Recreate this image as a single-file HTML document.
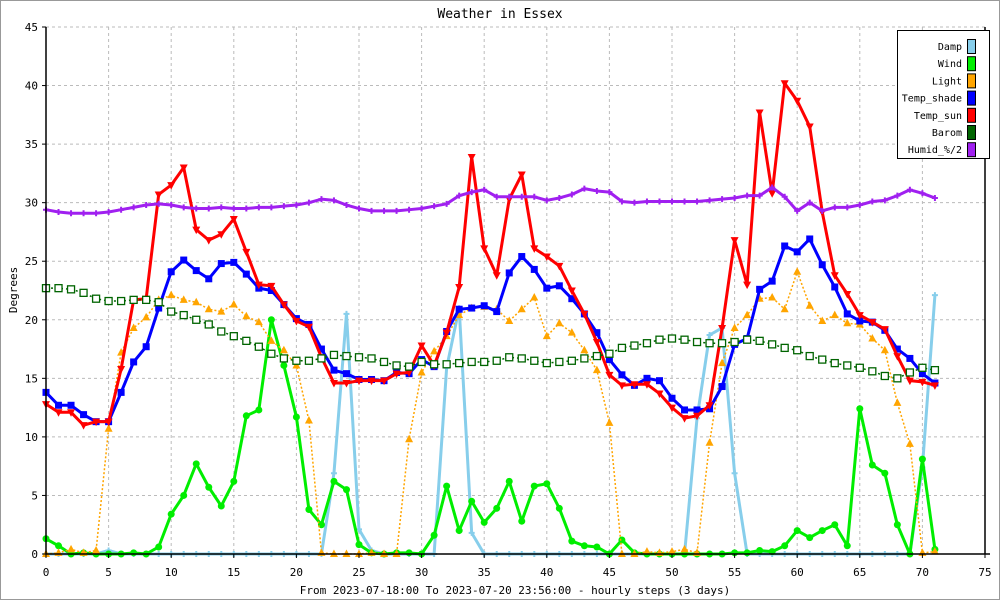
<!DOCTYPE html>
<html><head><meta charset="utf-8"><style>
body{margin:0;background:#fff}
svg{display:block;font-family:"DejaVu Sans Mono","Liberation Mono",monospace}
</style></head><body>
<svg id="c" width="1000" height="600" viewBox="0 0 1000 600">
<rect x="0.5" y="0.5" width="999" height="599" fill="#fff" stroke="#999"/>
<text x="500" y="18" text-anchor="middle" font-size="13">Weather in Essex</text>
<text transform="translate(17,290) rotate(-90)" text-anchor="middle" font-size="11">Degrees</text>
<text x="515" y="594" text-anchor="middle" font-size="11">From 2023-07-18:00 To 2023-07-20 23:56:00 - hourly steps (3 days)</text>
<g id="grid"></g><g id="series"></g><g id="axes"></g>
<g id="legend"></g>
</svg>
<script>
const xTicks=[0,5,10,15,20,25,30,35,40,45,50,55,60,65,70,75];
const yTicks=[0,5,10,15,20,25,30,35,40,45];
const damp=[0,0,0,0,0,0.3,0,0,0,0,0,0,0,0,0,0,0,0,0,0,0,0,0,6.9,20.5,2.1,0.3,0,0,0,0,0,15.9,21,1.8,0,0,0,0,0,0,0,0,0,0,0,0,0,0,0,0,0,11.6,18.7,19.3,6.9,0,0,0,0,0,0,0,0,0,0,0,0,0,0,7.4,22.1];
const wind=[1.3,0.7,0,0.1,0,0,0,0.1,0,0.6,3.4,5,7.7,5.7,4.1,6.2,11.8,12.3,20,16.1,11.7,3.8,2.5,6.2,5.5,0.8,0.1,0,0.1,0.1,0,1.6,5.8,2,4.5,2.7,3.9,6.2,2.8,5.8,6,3.9,1.1,0.7,0.6,0,1.2,0.1,0,0,0,0,0,0,0,0.1,0.1,0.3,0.2,0.7,2,1.4,2,2.5,0.7,12.4,7.6,6.9,2.5,0,8.1,0.4];
const light=[0,0.1,0.4,0.1,0.3,10.7,17.2,19.3,20.2,21.7,22.1,21.7,21.5,20.9,20.7,21.3,20.3,19.8,18.2,17.4,16.1,11.4,0.1,0,0,0,0.1,0,0,9.8,15.5,17.3,18.6,20.4,21,21.1,20.9,19.9,20.9,21.9,18.6,19.7,18.9,17.4,15.7,11.2,0,0,0.2,0.1,0.2,0.4,0.1,9.5,16.3,19.3,20.4,21.8,21.9,20.9,24.1,21.2,19.9,20.4,19.7,19.6,18.4,17.4,12.9,9.4,0.1,0.2];
const tshade=[13.8,12.7,12.7,11.9,11.3,11.3,13.8,16.4,17.7,21,24.1,25.1,24.2,23.5,24.8,24.9,23.9,22.7,22.5,21.3,20.1,19.6,17.5,15.7,15.4,14.9,14.9,14.8,15.5,15.4,16.6,16,19,20.9,21,21.2,20.7,24,25.4,24.3,22.7,22.9,21.8,20.5,18.9,16.6,15.3,14.4,15,14.8,13.3,12.3,12.3,12.4,14.3,17.9,18.4,22.6,23.3,26.3,25.8,26.9,24.7,22.8,20.5,19.9,19.8,19.1,17.5,16.7,15.4,14.6];
const tsun=[12.8,12.1,12.1,11,11.3,11.3,15.8,21.7,21.8,30.7,31.5,33,27.7,26.8,27.3,28.6,25.8,23,22.9,21.3,19.9,19.4,16.8,14.6,14.6,14.8,14.8,14.8,15.4,15.5,17.8,16.1,18.9,22.8,33.9,26.1,23.8,30.3,32.4,26.1,25.4,24.6,22.5,20.5,18.1,15.3,14.4,14.5,14.5,13.7,12.5,11.6,11.8,12.7,19.3,26.8,23,37.7,30.8,40.2,38.7,36.5,29.2,23.8,22.2,20.4,19.8,19.2,16.9,14.8,14.7,14.4];
const barom=[22.7,22.7,22.6,22.3,21.8,21.6,21.6,21.7,21.7,21.5,20.7,20.4,20,19.6,19,18.6,18.2,17.7,17.1,16.7,16.5,16.5,16.7,17,16.9,16.8,16.7,16.4,16.1,16,16.4,16.2,16.2,16.3,16.4,16.4,16.5,16.8,16.7,16.5,16.3,16.4,16.5,16.7,16.9,17.1,17.6,17.8,18,18.3,18.4,18.3,18.1,18,18,18.1,18.3,18.2,17.9,17.6,17.4,16.9,16.6,16.3,16.1,15.9,15.6,15.2,15,15.5,15.9,15.7];
const humid=[29.4,29.2,29.1,29.1,29.1,29.2,29.4,29.6,29.8,29.9,29.8,29.6,29.5,29.5,29.6,29.5,29.5,29.6,29.6,29.7,29.8,30,30.3,30.2,29.8,29.5,29.3,29.3,29.3,29.4,29.5,29.7,29.9,30.6,30.9,31.1,30.5,30.5,30.5,30.5,30.2,30.4,30.7,31.2,31,30.9,30.1,30,30.1,30.1,30.1,30.1,30.1,30.2,30.3,30.4,30.6,30.6,31.3,30.5,29.3,30,29.3,29.6,29.6,29.8,30.1,30.2,30.6,31.1,30.8,30.4];
const legendNames=["Damp","Wind","Light","Temp_shade","Temp_sun","Barom","Humid_%/2"];
const legendColors=["#87ceeb","#00ee00","#ffa500","#0000ff","#ff0000","#006400","#a020f0"];

const NS="http://www.w3.org/2000/svg";
const X0=46,X1=985,Y0=554,Y1=27;
const sx=v=>X0+(X1-X0)*v/75, sy=v=>Y0-(Y0-Y1)*v/45;
function mk(t,a,p){const e=document.createElementNS(NS,t);for(const k in a)e.setAttribute(k,a[k]);p.appendChild(e);return e;}
const G=document.getElementById('grid'),S=document.getElementById('series'),A=document.getElementById('axes'),L=document.getElementById('legend');
xTicks.forEach(t=>{
 if(t>0&&t<75){const l=mk('line',{x1:sx(t),x2:sx(t),y1:Y1,y2:Y0,stroke:'#bbb','stroke-dasharray':'3,3'},G);
 
 }
 const tk=mk('line',{x1:sx(t),x2:sx(t),y1:Y0,y2:Y0+4,stroke:'#000'},A);
 
 
 const tx=mk('text',{x:sx(t),y:576,'text-anchor':'middle','font-size':11},A);tx.textContent=t;
 
 
});
yTicks.forEach(t=>{
 if(t>0){const l=mk('line',{x1:X0,x2:X1,y1:sy(t),y2:sy(t),stroke:'#bbb','stroke-dasharray':'3,3'},G);
 
 }
 const tk=mk('line',{x1:X0-4,x2:X0,y1:sy(t),y2:sy(t),stroke:'#000'},A);
 
 
 const tx=mk('text',{x:38,y:sy(t)+4,'text-anchor':'end','font-size':11},A);tx.textContent=t;
 
 
});
const ax=mk('path',{d:`M${X0} ${Y1}V${Y0}H${X1+5}M${X1} ${Y1}V${Y0}`,stroke:'#000',fill:'none','stroke-width':1.5},A);



function marker(kind,x,y,c,g){
 if(kind==='circle')return mk('circle',{cx:x,cy:y,r:3.5,fill:c},g);
 if(kind==='square')return mk('rect',{x:x-3.5,y:y-3.5,width:7,height:7,fill:c},g);
 if(kind==='osquare')return mk('rect',{x:x-3.5,y:y-3.5,width:7,height:7,fill:'#fff',stroke:c,'stroke-width':1.3},g);
 if(kind==='up')return mk('path',{d:`M${x} ${y-4.5}L${x+4} ${y+3}L${x-4} ${y+3}Z`,fill:c},g);
 if(kind==='down')return mk('path',{d:`M${x} ${y+4.5}L${x+4} ${y-3}L${x-4} ${y-3}Z`,fill:c},g);
 if(kind==='cross')return mk('path',{d:`M${x-3} ${y}H${x+3}M${x} ${y-3}V${y+3}`,stroke:c,'stroke-width':2},g);
 return mk('circle',{cx:x,cy:y,r:3,fill:c},g);
}
function series(name,data,color,w,dash,kind){
 const g=mk('g',{},S);
 
 
 const p=mk('polyline',{points:data.map((v,i)=>sx(i)+','+sy(v)).join(' '),fill:'none',stroke:color,'stroke-width':w,'stroke-linejoin':'round'},g);
 if(dash)p.setAttribute('stroke-dasharray',dash);
 
 
 data.forEach((v,i)=>{const m=marker(kind,sx(i),sy(v),color,g);
  
  });
}
series('damp',damp,'#87ceeb',3,null,'cross');
series('wind',wind,'#00ee00',3,null,'circle');
series('light',light,'#ffa500',1.5,'2,2','up');
series('temp-shade',tshade,'#0000ff',3,null,'square');
series('temp-sun',tsun,'#ff0000',3,null,'down');
series('barom',barom,'#006400',1.5,'2,3','osquare');
series('humid',humid,'#a020f0',3,null,'cross');

const lb=mk('rect',{x:897.5,y:30.5,width:92,height:128,fill:'#fff',stroke:'#000'},L);


legendNames.forEach((n,i)=>{
 const y=46+i*17.2;
 const t=mk('text',{x:962,y:y+4,'text-anchor':'end','font-size':10},L);t.textContent=n;
 
 
 const r=mk('rect',{x:967.5,y:y-6.5,width:8,height:14,fill:legendColors[i],stroke:'#000'},L);
 
 
});
</script>
</body></html>
